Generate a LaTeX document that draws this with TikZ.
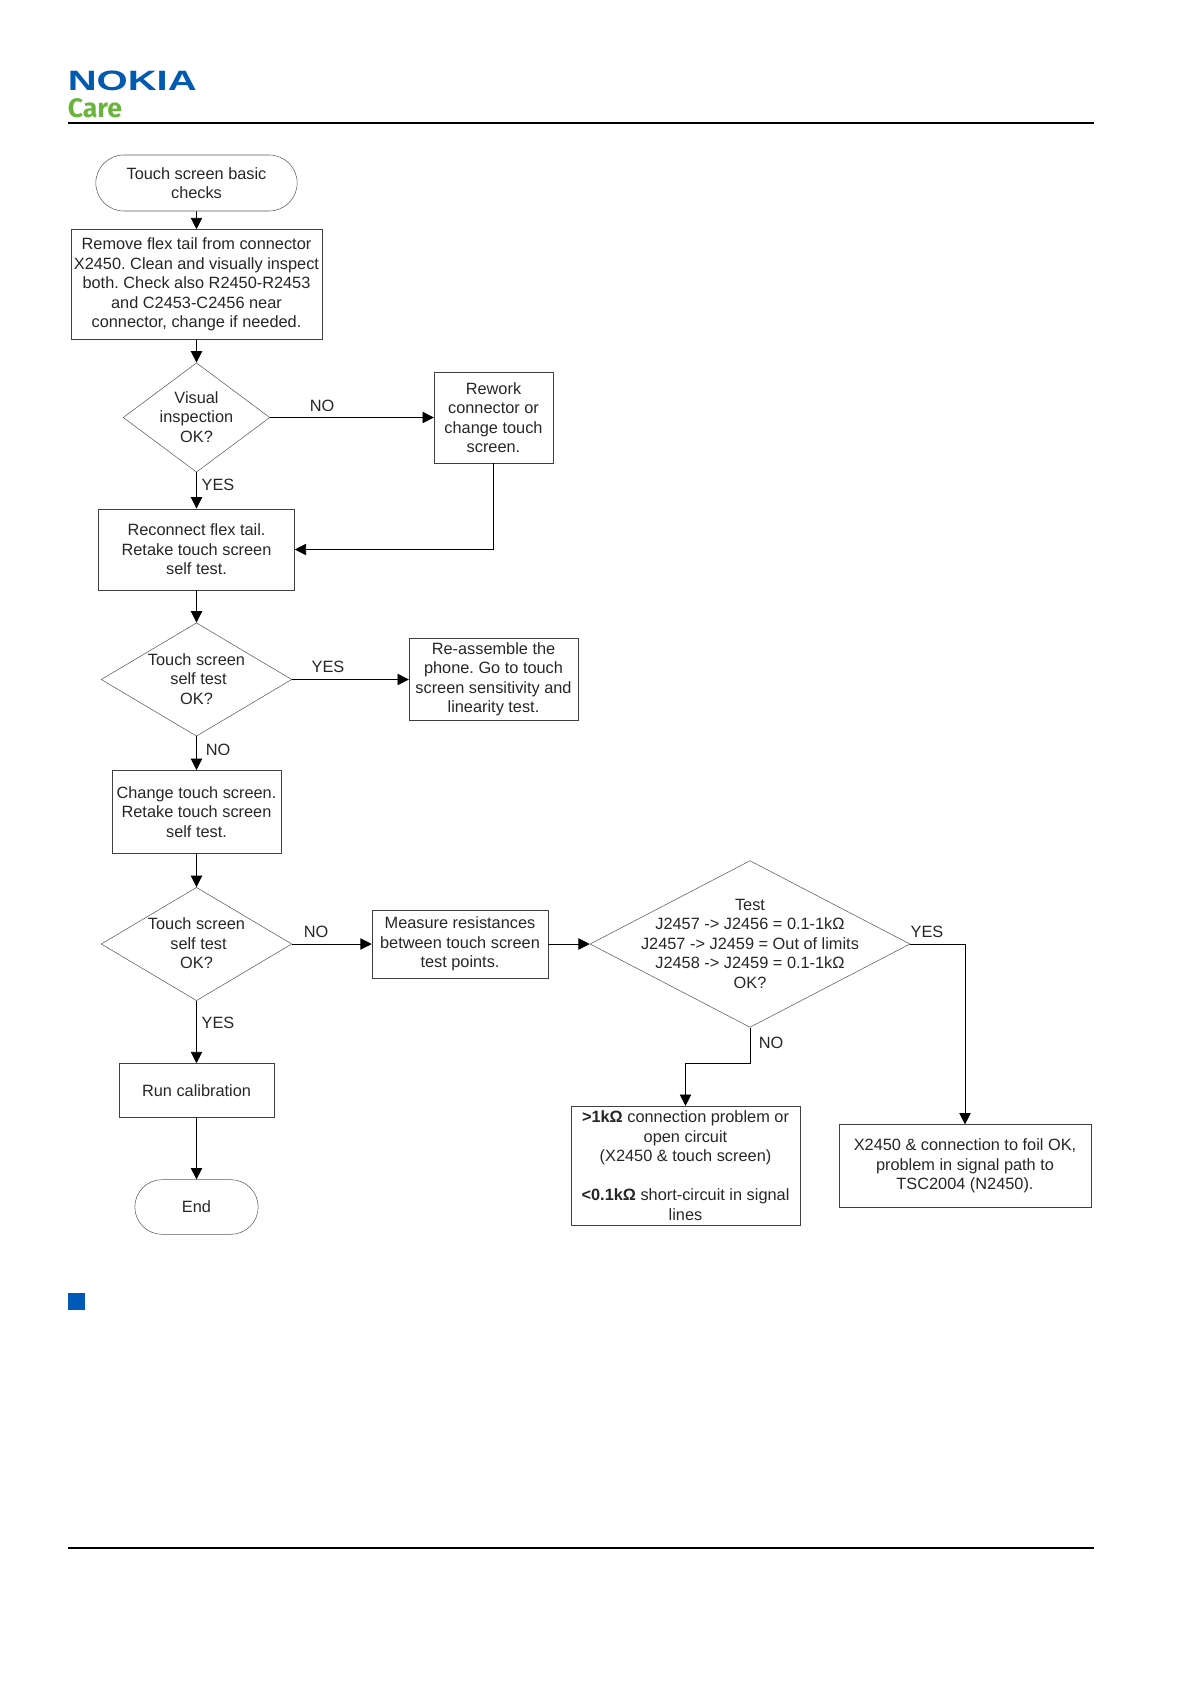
\documentclass[tikz,border=0pt]{standalone}
\usepackage{fontspec}
\setmainfont{Liberation Sans}
\newfontfamily\carefont{Fira Sans}
\usetikzlibrary{shapes.geometric,shapes.misc,arrows.meta}

\definecolor{nokiablue}{RGB}{0,90,175}
\definecolor{caregreen}{RGB}{106,180,62}
\definecolor{squareblue}{RGB}{0,88,184}

\tikzset{
  flowtext/.style={font=\fontsize{12.25}{14.6}\selectfont\frenchspacing, align=center, text=black!85},
  termbox/.style={rounded rectangle, draw=black!65, flowtext, inner sep=0pt},
  stepbox/.style={rectangle, draw=black!75, flowtext, inner sep=0pt},
  askbox/.style={diamond, draw=black!65, flowtext, inner sep=0pt},
  answer/.style={flowtext},
  flow/.style={draw=black, line width=.6pt, -{Triangle[length=8.5pt,width=8.5pt]}}
}
% text of a diamond may pass over its size
\newcommand{\asktext}[1]{\makebox[0pt]{\smash{\raisebox{-4pt}{\begin{tabular}{@{}c@{}}#1\end{tabular}}}}}

\begin{document}
\begin{tikzpicture}[x=.75pt,y=-.75pt]

          \useasboundingbox (0,0) rectangle (1191,1684);

          % header and footer
          \node[inner sep=0pt, anchor=west, text=nokiablue, font=\fontsize{21}{21}\bfseries\selectfont] (nokia)
            at (67.5,81) {\scalebox{1.43}[1]{NOKIA}};
          \node[inner sep=0pt, anchor=west, text=caregreen, font=\fontsize{20}{20}\carefont\bfseries\selectfont] (care)
            at (67.5,108) {Care};
          \coordinate (headl) at (68,123);
          \coordinate (headr) at (1094,123);
          \coordinate (footl) at (68,1548);
          \coordinate (footr) at (1094,1548);
          \draw[line width=1.1pt] (headl) -- (headr);
          \draw[line width=1.1pt] (footl) -- (footr);
          \fill[squareblue] (68,1293) rectangle (85,1310);

          \begin{scope}[every node/.append style={termbox}]
            \node[minimum width=151pt, minimum height=42pt] (start) at (196.5,183) {Touch screen basic\\checks};
            \node[minimum width=92.5pt, minimum height=41pt] (end) at (196.5,1207) {End};
          \end{scope}

          \begin{scope}[every node/.append style={stepbox}]
            \node[minimum width=188pt, minimum height=82.5pt] (remove) at (196.5,284.5)
              {Remove flex tail from connector\\X2450. Clean and visually inspect\\both. Check also R2450-R2453\\and C2453-C2456 near\\connector, change if needed.};
            \node[minimum width=89pt, minimum height=68pt] (rework) at (493.5,417.5) {Rework\\connector or\\change touch\\screen.};
            \node[minimum width=147pt, minimum height=61pt] (reconnect) at (196.5,549.5) {Reconnect flex tail.\\Retake touch screen\\self test.};
            \node[minimum width=126.5pt, minimum height=61.5pt] (reassemble) at (493.5,679.5) {Re-assemble the\\phone. Go to touch\\screen sensitivity and\\linearity test.};
            \node[minimum width=127pt, minimum height=62.5pt] (change) at (196.5,812) {Change touch screen.\\Retake touch screen\\self test.};
            \node[minimum width=132pt, minimum height=51pt] (measure) at (460,944) {Measure resistances\\between touch screen\\test points.};
            \node[minimum width=116pt, minimum height=40.5pt] (calib) at (196.5,1090.5) {Run calibration};
            \node[minimum width=171.5pt, minimum height=89pt] (openshort) at (685.5,1165.5)
              {\textbf{>1kΩ} connection problem or\\open circuit\\(X2450 \& touch screen)\\[14.6pt]\textbf{<0.1kΩ} short-circuit in signal\\lines};
            \node[minimum width=189pt, minimum height=62pt] (signal) at (965,1166) {X2450 \& connection to foil OK,\\problem in signal path to\\TSC2004 (N2450).};
          \end{scope}

          \begin{scope}[every node/.append style={askbox}]
            \node[minimum width=110pt, minimum height=82pt] (visual) at (196.5,417.5) {\asktext{Visual\\inspection\\OK?}};
            \node[minimum width=143pt, minimum height=85pt] (self1) at (196.5,679.5) {\asktext{Touch screen\\\hspace{3pt}self test\\OK?}};
            \node[minimum width=143pt, minimum height=85pt] (self2) at (196.5,944) {\asktext{Touch screen\\\hspace{3pt}self test\\OK?}};
            \node[minimum width=240pt, minimum height=125pt] (test) at (750,944)
              {\asktext{Test\\J2457 -> J2456 = 0.1-1kΩ\\J2457 -> J2459 = Out of limits\\J2458 -> J2459 = 0.1-1kΩ\\OK?}};
          \end{scope}

          \begin{scope}[every node/.append style={answer}]
            \node (no1) at (322,406) {NO};
            \node (yes1) at (218,485) {YES};
            \node (yes2) at (328,667) {YES};
            \node (no2) at (218,750) {NO};
            \node (no3) at (316,932) {NO};
            \node (yes3) at (218,1023) {YES};
            \node (yes4) at (927,932) {YES};
            \node (no4) at (771,1043) {NO};
          \end{scope}

          \coordinate (bend) at (750,1063);
          \begin{scope}[every edge/.style={flow}]
            \path (start) edge (remove);
            \path (remove) edge (visual);
            \path (visual) edge (rework);
            \path (visual) edge (reconnect);
            \path (reconnect) edge (self1);
            \path (self1) edge (reassemble);
            \path (self1) edge (change);
            \path (change) edge (self2);
            \path (self2) edge (measure);
            \path (self2) edge (calib);
            \path (calib) edge (end);
            \path (measure) edge (test);
          \end{scope}
          \draw[flow] (rework.south) |- (reconnect.east);
          \draw[flow] (test.east) -| (signal.north);
          \draw[flow] (test.south) -- (bend) -| (openshort.north);

        \end{tikzpicture}
\end{document}
